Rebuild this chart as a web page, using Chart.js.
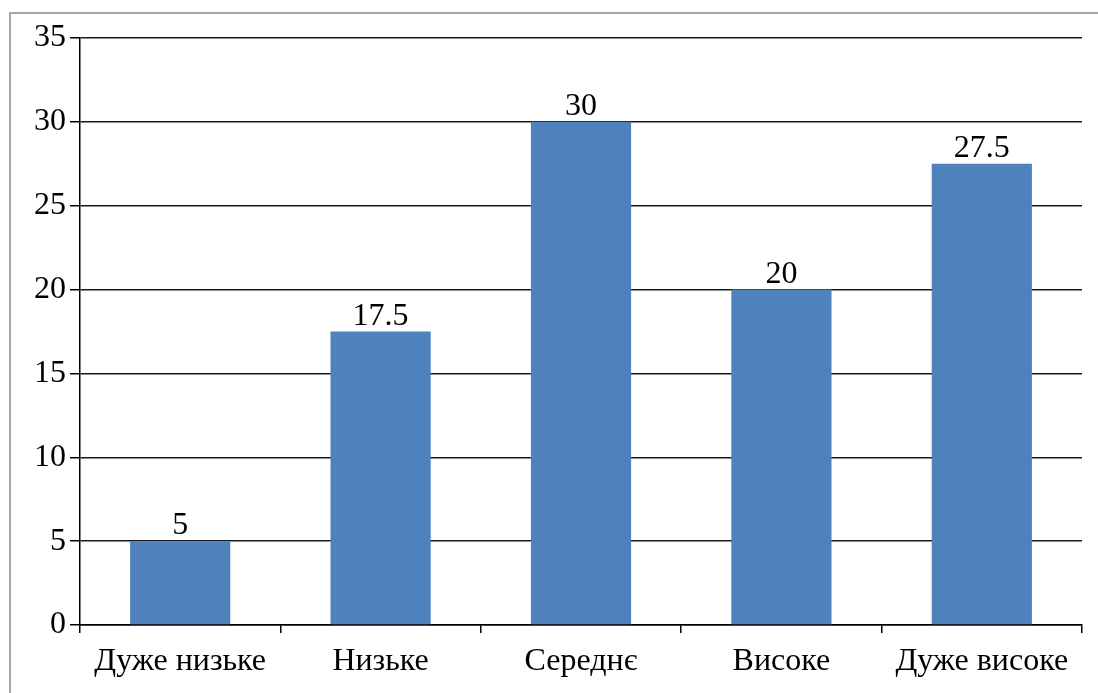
<!DOCTYPE html>
<html>
<head>
<meta charset="utf-8">
<script src="https://cdn.jsdelivr.net/npm/chart.js@4/dist/chart.umd.min.js"></script>
<style>
  html, body { margin: 0; padding: 0; background: #fff; }
  #wrap { position: relative; width: 1098px; height: 693px; }
  #frame { position: absolute; left: 9px; top: 12px; right: 0; bottom: 0;
           border-left: 2px solid #a6a6a6; border-top: 2px solid #a6a6a6; }
  canvas { position: absolute; left: 0; top: 0; }
</style>
</head>
<body>
<div id="wrap">
  <div id="frame"></div>
  <canvas id="c" width="1098" height="693"></canvas>
</div>
<script>
// Rating levels and the share (%) in each level
const categories = ['Дуже низьке', 'Низьке', 'Середнє', 'Високе', 'Дуже високе'];
const values = [5, 17.5, 30, 20, 27.5];
const valueLabels = ['5', '17.5', '30', '20', '27.5'];
const yTicks = [0, 5, 10, 15, 20, 25, 30, 35];

const serif = '"Liberation Serif", "Times New Roman", serif';

// Writes each bar's value just above it
const barValues = {
  id: 'barValues',
  afterDatasetsDraw(chart) {
    const ctx = chart.ctx;
    const meta = chart.getDatasetMeta(0);
    ctx.save();
    ctx.font = '32px ' + serif;
    ctx.fillStyle = '#000';
    ctx.textAlign = 'center';
    ctx.textBaseline = 'alphabetic';
    meta.data.forEach((bar, i) => {
      ctx.fillText(valueLabels[i], bar.x, bar.y - 7);
    });
    ctx.restore();
  }
};

new Chart(document.getElementById('c'), {
  type: 'bar',
  data: {
    labels: categories,
    datasets: [{
      data: values,
      backgroundColor: '#4f81bd',
      borderWidth: 0,
      categoryPercentage: 0.5,
      barPercentage: 1.0
    }]
  },
  options: {
    responsive: false,
    animation: false,
    devicePixelRatio: 1,
    layout: { padding: { top: 38, right: 16, left: 0, bottom: 0 } },
    plugins: { legend: { display: false }, tooltip: { enabled: false } },
    scales: {
      x: {
        offset: true,
        grid: {
          offset: true,
          drawOnChartArea: true,
          color: (c) => (c.index === categories.length ? '#a6a6a6' : 'rgba(0,0,0,0)'),
          tickColor: '#000',
          tickLength: 8,
          lineWidth: 1.5
        },
        border: { display: true, color: '#000', width: 1.5 },
        ticks: {
          color: '#000',
          font: { family: serif, size: 32 },
          padding: 9,
          maxRotation: 0,
          autoSkip: false
        },
        afterFit(scale) { scale.height = 68; }
      },
      y: {
        min: 0,
        max: 35,
        afterBuildTicks(scale) { scale.ticks = yTicks.map(v => ({ value: v })); },
        grid: {
          color: '#1a1a1a',
          tickColor: '#000',
          tickLength: 10,
          lineWidth: 1.5
        },
        border: { display: true, color: '#000', width: 1.5 },
        ticks: {
          color: '#000',
          font: { family: serif, size: 32 },
          padding: 4
        },
        afterFit(scale) { scale.width = 80; }
      }
    }
  },
  plugins: [barValues]
});
</script>
</body>
</html>
